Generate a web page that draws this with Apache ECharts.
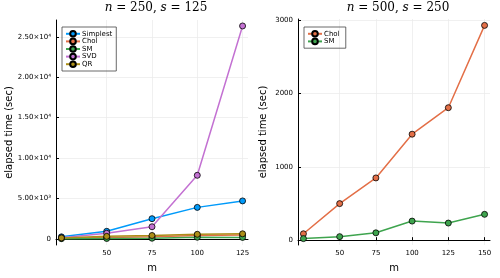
<!DOCTYPE html>
<html><head><meta charset="utf-8">
<script src="https://cdn.jsdelivr.net/npm/echarts@6/dist/echarts.min.js"></script>
<style>html,body{margin:0;padding:0;background:#fff}#c{width:500px;height:278px}</style>
</head><body><div id="c"></div>
<script>
// Left panel: n = 250, s = 125
const mLeft = [25, 50, 75, 100, 125];
const simplest = [240, 925, 2490, 3890, 4690];
const cholLeft = [60, 160, 260, 400, 460];
const smLeft = [20, 40, 70, 190, 170];
const svd = [120, 685, 1490, 7860, 26350];
const qr = [110, 300, 410, 560, 620];
const leftYTicks = [0, 5000, 10000, 15000, 20000, 25000];
const leftYTickLabels = ['0', '5.00×10³', '1.00×10⁴', '1.50×10⁴', '2.00×10⁴', '2.50×10⁴'];
const leftXTicks = [50, 75, 100, 125];

// Right panel: n = 500, s = 250
const mRight = [25, 50, 75, 100, 125, 150];
const cholRight = [87, 498, 848, 1444, 1805, 2927];
const smRight = [21, 48, 100, 260, 233, 352];
const rightYTicks = [0, 1000, 2000, 3000];
const rightXTicks = [50, 75, 100, 125, 150];

const C = {Simplest:'#009AFA', Chol:'#E36F47', SM:'#3EA44E', SVD:'#C371D2', QR:'#AC8E18'};
const font = 'DejaVu Sans';

function pairs(xs, ys){ return xs.map((x,i)=>[x, ys[i]]); }
function ser(name, xs, ys, idx){
  return {name, type:'line', xAxisIndex:idx, yAxisIndex:idx, data:pairs(xs, ys),
    symbol:'circle', symbolSize:6, showSymbol:true,
    lineStyle:{color:C[name], width:1.5},
    itemStyle:{color:C[name], borderColor:'#000', borderWidth:0.8},
    emphasis:{disabled:true}, animation:false};
}
function xAx(idx, min, max, ticks){
  return {type:'value', gridIndex:idx, min, max, name:'m', nameLocation:'middle', nameGap:18,
    nameTextStyle:{fontFamily:font, fontSize:10, color:'#000'},
    axisLine:{show:true, lineStyle:{color:'#000', width:1}},
    axisTick:{show:true, customValues:ticks, length:-3, lineStyle:{color:'#000'}},
    axisLabel:{customValues:ticks, fontFamily:font, fontSize:7, color:'#000', margin:5},
    splitLine:{show:true, lineStyle:{color:'#ececec', width:0.8}}};
}
function yAx(idx, min, max, ticks, labels, gap){
  return {type:'value', gridIndex:idx, min, max, name:'elapsed time (sec)', nameLocation:'middle', nameGap:gap,
    nameTextStyle:{fontFamily:font, fontSize:10, color:'#000'},
    axisLine:{show:true, lineStyle:{color:'#000', width:1}},
    axisTick:{show:true, customValues:ticks, length:-3, lineStyle:{color:'#000'}},
    axisLabel:{customValues:ticks, fontFamily:font, fontSize:7, color:'#000', margin:5,
      formatter:(v)=>{const i=ticks.indexOf(v); return labels? labels[i] : String(v);}},
    splitLine:{show:true, lineStyle:{color:'#ececec', width:0.8}}};
}
const titleRich = {i:{fontFamily:'DejaVu Serif', fontStyle:'italic', fontWeight:'normal', fontSize:12, color:'#000'},
                   r:{fontFamily:'DejaVu Serif', fontWeight:'normal', fontSize:12, color:'#000'}};
const chart = echarts.init(document.getElementById('c'), null, {renderer:'canvas'});
chart.setOption({
  animation:false,
  title:[
    {text:'{i|n}{r| = 250, }{i|s}{r| = 125}', left:151, top:-3, textAlign:'center', textStyle:{fontWeight:'normal', rich:titleRich}},
    {text:'{i|n}{r| = 500, }{i|s}{r| = 250}', left:393, top:-3, textAlign:'center', textStyle:{fontWeight:'normal', rich:titleRich}}
  ],
  grid:[
    {left:56, right:252, top:20, bottom:26},
    {left:298, right:10, top:19, bottom:27}
  ],
  xAxis:[xAx(0, 22, 128, leftXTicks), xAx(1, 21.25, 153.75, rightXTicks)],
  yAxis:[yAx(0, -768, 27088, leftYTicks, leftYTickLabels, 42), yAx(1, -66, 3014, rightYTicks, null, 30)],
  legend:[
    {data:['Simplest','Chol','SM','SVD','QR'], orient:'vertical', left:62, top:27,
     itemWidth:14, itemHeight:7, itemGap:0, padding:[3,4,3,3], borderColor:'#444', borderWidth:0.8,
     textStyle:{fontFamily:font, fontSize:7, color:'#000', padding:[0,0,0,-3]}},
    {data:['Chol ','SM '], orient:'vertical', left:304, top:27,
     itemWidth:14, itemHeight:7, itemGap:0, padding:[3,4,3,3], borderColor:'#444', borderWidth:0.8,
     textStyle:{fontFamily:font, fontSize:7, color:'#000', padding:[0,0,0,-3]}}
  ],
  series:[
    ser('Simplest', mLeft, simplest, 0),
    ser('Chol', mLeft, cholLeft, 0),
    ser('SM', mLeft, smLeft, 0),
    ser('SVD', mLeft, svd, 0),
    ser('QR', mLeft, qr, 0),
    Object.assign(ser('Chol', mRight, cholRight, 1), {name:'Chol '}),
    Object.assign(ser('SM', mRight, smRight, 1), {name:'SM '})
  ]
});
</script></body></html>
